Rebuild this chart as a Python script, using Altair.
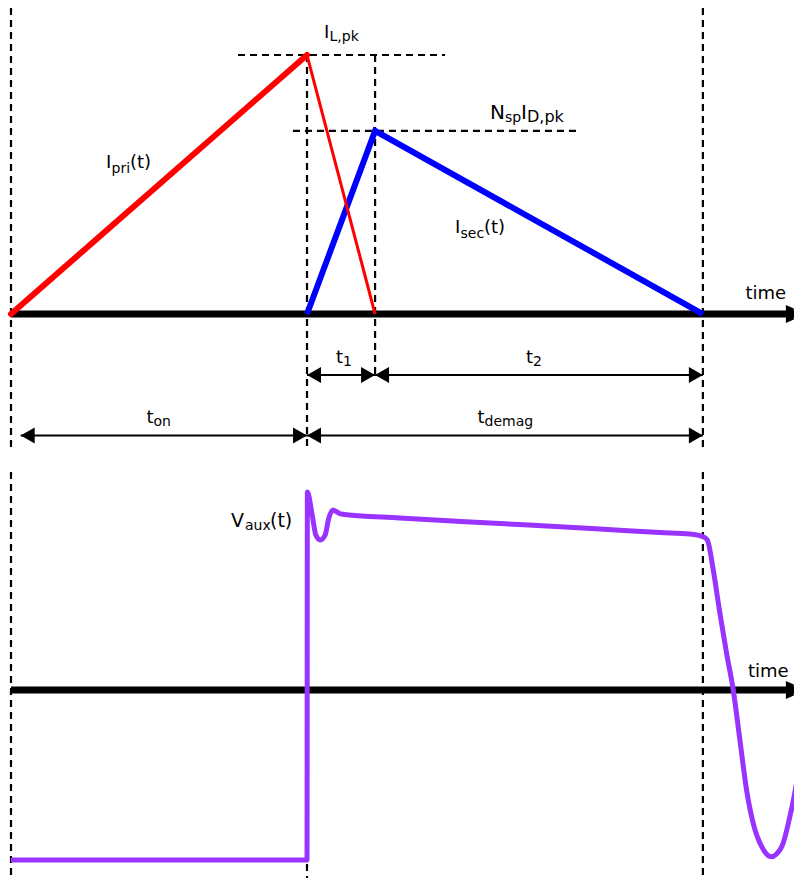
import altair as alt
import pandas as pd

# ---------------- data (time in arbitrary units, currents normalised to I_L,pk, Vaux in V) ----------------
T_AXIS_END = 21.16

pri_t = [0.0, 8.0]
pri_i = [0.0, 1.0]
fall_t = [8.0, 9.84]
fall_i = [1.0, 0.0]
sec_t = [8.0, 9.84, 18.70]
sec_i = [0.0, 0.707, 0.0]

vaux_t = [0.0, 8.0, 8.01, 8.14, 8.24, 8.36, 8.49, 8.59, 8.70, 8.81, 8.92, 10.51, 13.22,
          15.92, 17.54, 18.35, 18.71, 18.82, 18.98, 19.16, 19.34, 19.52, 19.70, 19.88,
          20.06, 20.29, 20.54, 20.83, 21.05, 21.24, 21.37]
vaux_v = [-17.0, -17.0, 19.8, 17.5, 15.5, 15.0, 15.5, 17.2, 18.0, 17.8, 17.6, 17.2, 16.65,
          16.1, 15.75, 15.6, 15.33, 15.0, 12.0, 7.67, 3.67, 0.0, -5.0, -10.0,
          -13.33, -15.67, -16.67, -15.67, -12.67, -9.0, -5.0]

# labels of the current panel (main text pieces and subscripts)
top_lab_text = ["I", "L,pk", "N", "sp", "I", "D,pk", "I", "pri", "(t)", "I", "sec", "(t)",
                "time", "t", "1", "t", "2", "t", "on", "t", "demag"]
top_lab_t = [8.459, 8.608, 12.946, 13.351, 13.784, 13.946, 2.568, 2.716, 3.216, 12.0, 12.149,
             12.784, 19.851, 8.784, 8.973, 13.919, 14.108, 3.662, 3.851, 12.608, 12.797]
top_lab_y = [1.0645, 1.0552, 0.7529, 0.7413, 0.7529, 0.7413, 0.5625, 0.5463, 0.5625, 0.3116,
             0.2946, 0.3116, 0.0568, -0.188, -0.2008, -0.188, -0.2008, -0.422, -0.4324,
             -0.422, -0.4313]
top_lab_size = [18, 14, 20, 14, 20, 16, 18, 14, 18, 18, 14, 18, 18, 18, 14, 18, 14, 18, 14,
                18, 14]

bot_lab_text = ["V", "aux", "(t)", "time"]
bot_lab_t = [5.946, 6.324, 7.0, 19.919]
bot_lab_v = [16.35, 16.05, 16.35, 1.33]
bot_lab_size = [19, 14, 19, 18]

# dimension arrows (start, end, level)
arrow_start = [8.0, 9.84, 0.262, 8.0]
arrow_end = [9.84, 18.70, 8.0, 18.70]
arrow_level = [-0.2355, -0.2355, -0.469, -0.469]

# dashed guides
top_vdash_t = [0.0, 8.0, 9.84, 18.70]
top_vdash_y1 = [1.1815, 1.0, 1.0, 1.1815]
top_vdash_y2 = [-0.525, -0.525, -0.2355, -0.525]
hdash_t1 = [6.135, 7.62]
hdash_t2 = [11.73, 15.32]
hdash_y = [1.0, 0.707]

bot_vdash_t = [0.0, 8.0, 18.70]
bot_vdash_y1 = [21.8, 19.8, 21.8]
bot_vdash_y2 = [-18.8, -18.8, -18.8]

# ---------------- scales ----------------
W = 786
H = 870
XDOM = [-0.0811, 21.162]
YTOP = [-2.1776, 1.1815]   # current panel scale
YBOT = [-18.8, 68.2]       # Vaux panel scale
FONT = "DejaVu Sans"


def X(f="t"):
    return alt.X(f"{f}:Q", scale=alt.Scale(domain=XDOM, nice=False, zero=False), axis=None)


def Y(f, dom):
    return alt.Y(f"{f}:Q", scale=alt.Scale(domain=dom, nice=False, zero=False), axis=None)


DASH = dict(color="black", strokeWidth=2.2, strokeDash=[7, 5])
ARROW_R = "M0,0L-1,-0.57L-1,0.57Z"
ARROW_L = "M0,0L1,-0.57L1,0.57Z"
AXIS_END = "M-0.44,-1L0.44,-0.6L0.44,0.6L-0.44,1Z"

# ---------------- current panel ----------------
vd = pd.DataFrame({"t": top_vdash_t, "y": top_vdash_y1, "y2": top_vdash_y2})
top_vdash = alt.Chart(vd).mark_rule(**DASH).encode(x=X(), y=Y("y", YTOP), y2="y2:Q")
hd = pd.DataFrame({"t": hdash_t1, "t2": hdash_t2, "y": hdash_y})
top_hdash = alt.Chart(hd).mark_rule(**DASH).encode(x=X(), x2="t2:Q", y=Y("y", YTOP))

ax = pd.DataFrame({"t": [0.0], "t2": [T_AXIS_END], "y": [0.0]})
top_axis = alt.Chart(ax).mark_rule(color="black", strokeWidth=7).encode(
    x=X(), x2="t2:Q", y=Y("y", YTOP))
axe = pd.DataFrame({"t": [21.05], "y": [0.0]})
top_axis_end = alt.Chart(axe).mark_point(shape=AXIS_END, size=324, filled=True, color="black",
                                          opacity=1).encode(x=X(), y=Y("y", YTOP))

ar = pd.DataFrame({"t": arrow_start, "t2": arrow_end, "y": arrow_level})
arrow_line = alt.Chart(ar).mark_rule(color="black", strokeWidth=2).encode(
    x=X(), x2="t2:Q", y=Y("y", YTOP))
arrow_left = alt.Chart(ar).mark_point(shape=ARROW_L, size=784, filled=True, color="black",
                                      opacity=1).encode(x=X(), y=Y("y", YTOP))
arrow_right = alt.Chart(ar).mark_point(shape=ARROW_R, size=784, filled=True, color="black",
                                       opacity=1).encode(x=X("t2"), y=Y("y", YTOP))

pri = pd.DataFrame({"t": pri_t, "i": pri_i})
fall = pd.DataFrame({"t": fall_t, "i": fall_i})
sec = pd.DataFrame({"t": sec_t, "i": sec_i})
pri_line = alt.Chart(pri).mark_line(color="#ff0000", strokeWidth=6, strokeCap="round").encode(
    x=X(), y=Y("i", YTOP))
fall_line = alt.Chart(fall).mark_line(color="#ff0000", strokeWidth=3).encode(
    x=X(), y=Y("i", YTOP))
sec_line = alt.Chart(sec).mark_line(color="#0000ff", strokeWidth=6).encode(
    x=X(), y=Y("i", YTOP))

tl = pd.DataFrame({"text": top_lab_text, "t": top_lab_t, "y": top_lab_y, "size": top_lab_size})
top_text = alt.Chart(tl).mark_text(align="left", baseline="alphabetic", font=FONT,
                                   color="black").encode(
    x=X(), y=Y("y", YTOP), text="text:N", size=alt.Size("size:Q", scale=None, legend=None))

# ---------------- Vaux panel ----------------
bvd = pd.DataFrame({"t": bot_vdash_t, "y": bot_vdash_y1, "y2": bot_vdash_y2})
bot_vdash = alt.Chart(bvd).mark_rule(**DASH).encode(x=X(), y=Y("y", YBOT), y2="y2:Q")
bot_axis = alt.Chart(ax).mark_rule(color="black", strokeWidth=7).encode(
    x=X(), x2="t2:Q", y=Y("y", YBOT))
bot_axis_end = alt.Chart(axe).mark_point(shape=AXIS_END, size=324, filled=True, color="black",
                                          opacity=1).encode(x=X(), y=Y("y", YBOT))
va = pd.DataFrame({"t": vaux_t, "v": vaux_v, "o": list(range(len(vaux_t)))})
vaux_line = alt.Chart(va).mark_line(color="#9933ff", strokeWidth=5, interpolate="monotone",
                                    clip=True).encode(
    x=X(), y=Y("v", YBOT), order="o:Q")
bl = pd.DataFrame({"text": bot_lab_text, "t": bot_lab_t, "y": bot_lab_v, "size": bot_lab_size})
bot_text = alt.Chart(bl).mark_text(align="left", baseline="alphabetic", font=FONT,
                                   color="black").encode(
    x=X(), y=Y("y", YBOT), text="text:N", size=alt.Size("size:Q", scale=None, legend=None))

chart = alt.layer(
    top_vdash, top_hdash, top_axis, top_axis_end, arrow_line, arrow_left, arrow_right,
    sec_line, fall_line, pri_line, top_text,
    bot_vdash, bot_axis, bot_axis_end, vaux_line, bot_text,
).resolve_scale(y="independent").properties(
    width=W, height=H, padding=0, background="white",
    autosize=alt.AutoSizeParams(type="none"),
).configure_view(stroke=None)

chart.save("out.html", embed_options={"renderer": "svg", "actions": False})
